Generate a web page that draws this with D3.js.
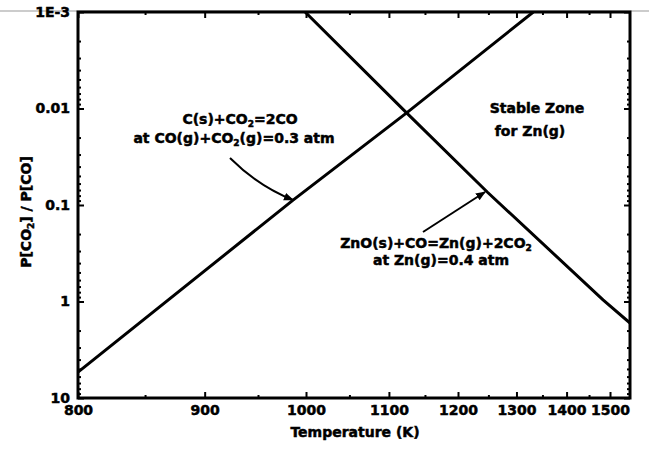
<!DOCTYPE html>
<html>
<head>
<meta charset="utf-8">
<script src="https://cdn.jsdelivr.net/npm/d3@7"></script>
<style>
  body { margin: 0; background: #fff; }
  text { font-family: "DejaVu Sans", sans-serif; font-weight: bold; fill: #000; }
</style>
</head>
<body>
<div id="chart"></div>
<script>
// temperature ticks (K) and ratio ticks
var xMajor = [800, 900, 1000, 1100, 1200, 1300, 1400, 1500];
var xMinor = [850, 950, 1050, 1150, 1250, 1350, 1450];
var yMajor = [0.001, 0.01, 0.1, 1, 10];
var yLabels = ["1E-3", "0.01", "0.1", "1", "10"];

// C(s)+CO2=2CO line
var carbonT = [800, 986, 1124, 1332];
var carbonV = [5.4, 0.089, 0.0111, 0.001];
// ZnO(s)+CO=Zn(g)+2CO2 line
var zincT = [999, 1124, 1248, 1483, 1551];
var zincV = [0.001, 0.0111, 0.0733, 0.96, 1.67];

function Chart() {
  var w = 649, h = 449;
  var left = 78, right = 630, top = 12, bottom = 398;

  var svg = d3.select("#chart").append("svg")
    .attr("width", w).attr("height", h);

  // x is reciprocal temperature
  var xScale = d3.scaleLinear().domain([1 / 800, 1 / 1551]).range([left, right]);
  var yScale = d3.scaleLog().domain([0.001, 10]).range([top, bottom]);

  var defs = svg.append("defs");
  defs.append("marker").attr("id", "arrow")
    .attr("viewBox", "0 0 10 10").attr("refX", 9).attr("refY", 5)
    .attr("markerWidth", 5).attr("markerHeight", 5).attr("orient", "auto")
    .append("path").attr("d", "M0,1 L10,5 L0,9 Z").attr("fill", "#000");
  defs.append("clipPath").attr("id", "plot")
    .append("rect").attr("x", left).attr("y", top)
    .attr("width", right - left).attr("height", bottom - top);

  // scan edge line at the top
  svg.append("line").attr("x1", 0).attr("x2", w).attr("y1", 11).attr("y2", 11)
    .attr("stroke", "#999").attr("stroke-width", 1);

  // minor ticks on y (2..9 per decade)
  var yMinor = [];
  [0.001, 0.01, 0.1, 1].forEach(function (d) {
    for (var k = 2; k <= 9; k++) yMinor.push(d * k);
  });

  var inv = function (t) { return 1 / t; };
  var xFmt = function (v) { return Math.round(1 / v); };

  function tickAxis(axis, tr, vals, size, fmt) {
    var g = svg.append("g").attr("transform", tr)
      .call(axis.tickValues(vals).tickSize(size).tickSizeOuter(0).tickPadding(4)
        .tickFormat(fmt));
    g.select(".domain").remove();
    g.selectAll("line").attr("stroke", "#000").attr("stroke-width", 2);
    g.selectAll("text").attr("font-family", null);
    return g;
  }

  // bottom
  tickAxis(d3.axisBottom(xScale), "translate(0," + bottom + ")", xMinor.map(inv), -3, "");
  var gx = tickAxis(d3.axisBottom(xScale), "translate(0," + bottom + ")", xMajor.map(inv), -6, xFmt);
  gx.selectAll("text").attr("font-size", 14).attr("y", 5).attr("dy", "0.85em")
    .attr("stroke", "#000").attr("stroke-width", 0.5);
  // top
  tickAxis(d3.axisTop(xScale), "translate(0," + top + ")", xMinor.map(inv), -3, "");
  tickAxis(d3.axisTop(xScale), "translate(0," + top + ")", xMajor.map(inv), -6, "")
    .selectAll("text").remove();
  // left
  tickAxis(d3.axisLeft(yScale), "translate(" + left + ",0)", yMinor, -3, "");
  var gy = tickAxis(d3.axisLeft(yScale), "translate(" + left + ",0)", yMajor, -6, function (d, i) { return yLabels[i]; });
  gy.selectAll("text").attr("font-size", 14).attr("x", -8)
    .attr("stroke", "#000").attr("stroke-width", 0.5);
  // right
  tickAxis(d3.axisRight(yScale), "translate(" + right + ",0)", yMinor, -3, "");
  tickAxis(d3.axisRight(yScale), "translate(" + right + ",0)", yMajor, -6, "")
    .selectAll("text").remove();

  // frame
  svg.append("rect").attr("x", left).attr("y", top)
    .attr("width", right - left).attr("height", bottom - top)
    .attr("fill", "none").attr("stroke", "#000").attr("stroke-width", 3);

  // data lines
  var line = d3.line()
    .x(function (d) { return xScale(1 / d[0]); })
    .y(function (d) { return yScale(d[1]); });
  [[carbonT, carbonV], [zincT, zincV]].forEach(function (s) {
    svg.append("path").datum(d3.zip(s[0], s[1]))
      .attr("clip-path", "url(#plot)")
      .attr("d", line).attr("fill", "none")
      .attr("stroke", "#000").attr("stroke-width", 3);
  });

  // text with subscripts; objects in parts are subscripts
  function label(x, y, parts, rot) {
    var t = svg.append("text").attr("text-anchor", "middle")
      .attr("font-size", 14).attr("stroke", "#000").attr("stroke-width", 0.5);
    if (rot) t.attr("transform", "translate(" + x + "," + y + ") rotate(-90)");
    else t.attr("x", x).attr("y", y);
    var shift = 0;
    parts.forEach(function (p) {
      if (typeof p === "object") {
        t.append("tspan").attr("font-size", 9).attr("dy", 3).text(p.s);
        shift = -3;
      } else {
        t.append("tspan").attr("dy", shift).text(p);
        shift = 0;
      }
    });
  }

  // axis titles
  label(355, 437, ["Temperature (K)"]);
  label(31, 212, ["P[CO", { s: "2" }, "] / P[CO]"], true);

  // annotations
  label(240, 124, ["C(s)+CO", { s: "2" }, "=2CO"]);
  label(234, 143, ["at CO(g)+CO", { s: "2" }, "(g)=0.3 atm"]);
  label(537, 113, ["Stable Zone"]);
  label(530, 136, ["for Zn(g)"]);
  label(436, 248, ["ZnO(s)+CO=Zn(g)+2CO", { s: "2" }]);
  label(441, 265, ["at Zn(g)=0.4 atm"]);

  // pointer arrows
  svg.append("path").attr("d", "M230,158 Q258,186 293,200")
    .attr("fill", "none").attr("stroke", "#000").attr("stroke-width", 2)
    .attr("marker-end", "url(#arrow)");
  svg.append("path").attr("d", "M423,232 L485,192")
    .attr("fill", "none").attr("stroke", "#000").attr("stroke-width", 2)
    .attr("marker-end", "url(#arrow)");
}
window.onload = Chart();
</script>
</body>
</html>
